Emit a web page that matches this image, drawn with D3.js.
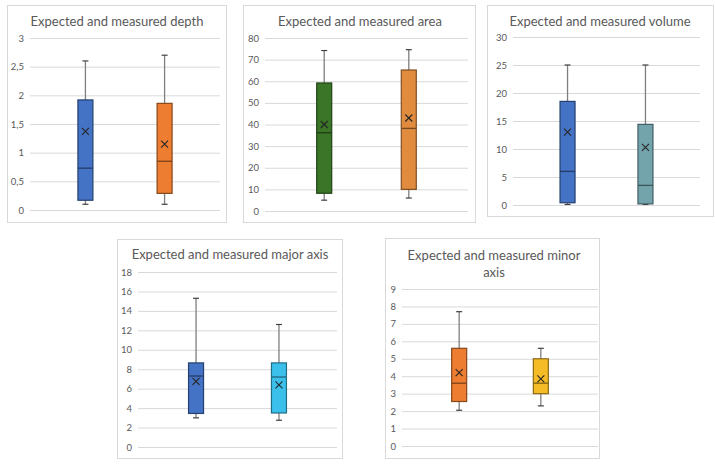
<!DOCTYPE html>
<html>
<head>
<meta charset="utf-8">
<script src="https://cdn.jsdelivr.net/npm/d3@7"></script>
<style>
  body { margin: 0; background: #fff; }
  svg { display: block; }
</style>
</head>
<body>
<svg id="chart"></svg>
<script>
// box stats: [min, q1, median, q3, max, mean]
var groups = ["Expected", "Measured"];

var depthStats  = [[0.1, 0.17, 0.73, 1.92, 2.6, 1.37], [0.1, 0.29, 0.85, 1.86, 2.7, 1.15]];
var areaStats   = [[5, 8.2, 36.2, 59.2, 74.2, 40], [6, 10, 38.2, 65.2, 74.6, 43]];
var volumeStats = [[0.1, 0.4, 6, 18.5, 25, 13], [0.1, 0.2, 3.5, 14.4, 25, 10.3]];
var majorStats  = [[3.0, 3.45, 7.3, 8.65, 15.3, 6.75], [2.75, 3.5, 7.2, 8.65, 12.6, 6.4]];
var minorStats  = [[2.05, 2.55, 3.6, 5.6, 7.7, 4.2], [2.3, 3.0, 3.6, 5.0, 5.6, 3.85]];

var depthTicks  = [0, 0.5, 1, 1.5, 2, 2.5, 3];
var areaTicks   = [0, 10, 20, 30, 40, 50, 60, 70, 80];
var volumeTicks = [0, 5, 10, 15, 20, 25, 30];
var majorTicks  = [0, 2, 4, 6, 8, 10, 12, 14, 16, 18];
var minorTicks  = [0, 1, 2, 3, 4, 5, 6, 7, 8, 9];

var titles = [
  ["Expected and measured depth"],
  ["Expected and measured area"],
  ["Expected and measured volume"],
  ["Expected and measured major axis"],
  ["Expected and measured minor", "axis"]
];

var screen = {width: 715, height: 465};

var panels = [
  {stats: depthStats,  ticks: depthTicks,  title: titles[0], colors: ["#4472C4", "#ED7D31"],
   frame: [7, 5, 219, 217], plot: {left: 30, right: 220, top: 38, bottom: 210}, titleY: 21, titleX: 117},
  {stats: areaStats,   ticks: areaTicks,   title: titles[1], colors: ["#3B7527", "#E08B3E"],
   frame: [243, 5, 232, 217], plot: {left: 265, right: 468, top: 38, bottom: 211}, titleY: 21, titleX: 360},
  {stats: volumeStats, ticks: volumeTicks, title: titles[2], colors: ["#4472C4", "#73A3AB"],
   frame: [487, 5, 226, 211], plot: {left: 513, right: 700, top: 37, bottom: 205}, titleY: 21, titleX: 600},
  {stats: majorStats,  ticks: majorTicks,  title: titles[3], colors: ["#4472C4", "#3BC0EC"],
   frame: [117, 239, 225, 219], plot: {left: 138, right: 337, top: 272, bottom: 447}, titleY: 254, titleX: 230},
  {stats: minorStats,  ticks: minorTicks,  title: titles[4], colors: ["#ED7D31", "#F6BC27"],
   frame: [385, 238, 214, 220], plot: {left: 402, right: 598, top: 289, bottom: 446}, titleY: 255, titleX: 494}
];

var commaFmt = d3.formatLocale({decimal: ",", thousands: ".", grouping: [3], currency: ["", ""]}).format(".1~f");

var svg = d3.select("#chart")
    .attr("width", screen.width)
    .attr("height", screen.height);

var drawPanel = function(p) {
  var g = svg.append("g");

  g.append("rect")
    .attr("x", p.frame[0] + 0.5).attr("y", p.frame[1] + 0.5)
    .attr("width", p.frame[2]).attr("height", p.frame[3])
    .attr("fill", "#fff").attr("stroke", "#D9D9D9");

  g.selectAll("text.title")
    .data(p.title)
    .enter().append("text")
    .attr("class", "title")
    .attr("x", p.titleX)
    .attr("y", function(d, i) { return p.titleY + i * 17; })
    .attr("dy", "0.35em")
    .attr("text-anchor", "middle")
    .style("font-family", "Lato, 'Open Sans', sans-serif")
    .style("font-size", "13px")
    .style("fill", "#595959")
    .text(function(d) { return d; });

  var yScale = d3.scaleLinear()
      .domain([0, d3.max(p.ticks)])
      .range([p.plot.bottom, p.plot.top]);

  var xScale = d3.scalePoint()
      .domain(groups)
      .range([p.plot.left, p.plot.right])
      .padding(0.7);

  // gridlines + tick labels
  var yAxis = d3.axisLeft(yScale)
      .tickValues(p.ticks)
      .tickSize(-(p.plot.right - p.plot.left))
      .tickPadding(6)
      .tickFormat(commaFmt);

  var ax = g.append("g")
    .attr("transform", "translate(" + p.plot.left + ",0)")
    .call(yAxis);
  ax.select(".domain").remove();
  ax.selectAll(".tick line").attr("stroke", "#D9D9D9");
  ax.selectAll(".tick text")
    .style("font-family", "Lato, 'Open Sans', sans-serif")
    .style("font-size", "9.5px")
    .style("fill", "#595959");

  var bw = 15;
  var boxes = g.selectAll("g.box")
    .data(p.stats)
    .enter().append("g")
    .attr("class", "box");

  // whiskers
  boxes.append("line")
    .attr("x1", function(d, i) { return xScale(groups[i]); })
    .attr("x2", function(d, i) { return xScale(groups[i]); })
    .attr("y1", function(d) { return yScale(d[0]); })
    .attr("y2", function(d) { return yScale(d[4]); })
    .attr("stroke", "#7F7F7F").attr("stroke-width", 1.3);

  [0, 4].forEach(function(k) {
    boxes.append("line")
      .attr("x1", function(d, i) { return xScale(groups[i]) - 3; })
      .attr("x2", function(d, i) { return xScale(groups[i]) + 3; })
      .attr("y1", function(d) { return yScale(d[k]); })
      .attr("y2", function(d) { return yScale(d[k]); })
      .attr("stroke", "#404040").attr("stroke-width", 1.2);
  });

  boxes.append("rect")
    .attr("x", function(d, i) { return xScale(groups[i]) - bw / 2; })
    .attr("width", bw)
    .attr("y", function(d) { return yScale(d[3]); })
    .attr("height", function(d) { return yScale(d[1]) - yScale(d[3]); })
    .attr("fill", function(d, i) { return p.colors[i]; })
    .attr("stroke", function(d, i) { return d3.color(p.colors[i]).darker(1.6); })
    .attr("stroke-width", 1.2);

  // median
  boxes.append("line")
    .attr("x1", function(d, i) { return xScale(groups[i]) - bw / 2; })
    .attr("x2", function(d, i) { return xScale(groups[i]) + bw / 2; })
    .attr("y1", function(d) { return yScale(d[2]); })
    .attr("y2", function(d) { return yScale(d[2]); })
    .attr("stroke", function(d, i) { return d3.color(p.colors[i]).darker(1.8); })
    .attr("stroke-width", 1.3);

  // mean marker
  boxes.append("path")
    .attr("d", function(d, i) {
      var cx = xScale(groups[i]), cy = yScale(d[5]), s = 3.5;
      return "M" + (cx - s) + "," + (cy - s) + "L" + (cx + s) + "," + (cy + s) +
             "M" + (cx - s) + "," + (cy + s) + "L" + (cx + s) + "," + (cy - s);
    })
    .attr("stroke", "#262626").attr("stroke-width", 1.1).attr("fill", "none");
};

panels.forEach(drawPanel);
</script>
</body>
</html>
